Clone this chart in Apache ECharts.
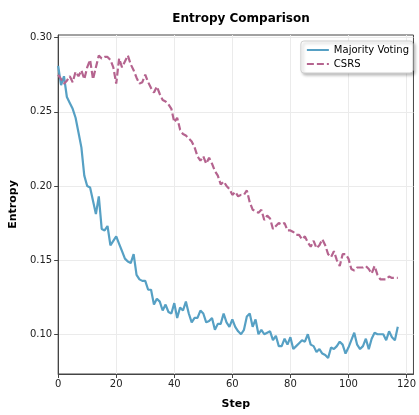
<!DOCTYPE html>
<html>
<head>
<meta charset="UTF-8">
<title>Entropy Comparison</title>
<script src="https://cdn.jsdelivr.net/npm/echarts@6/dist/echarts.min.js"></script>
<style>
  html, body { margin: 0; padding: 0; background: #fff; }
  #main { width: 419px; height: 415px; }
</style>
</head>
<body>
<div id="main"></div>
<script type="text/javascript">
// data, one value per step (0..117)
var majorityVoting = [
    0.281, 0.268, 0.274, 0.260, 0.256, 0.252, 0.246, 0.236, 0.226, 0.207,
    0.200, 0.199, 0.190, 0.181, 0.193, 0.171, 0.170, 0.173, 0.160, 0.163,
    0.166, 0.161, 0.156, 0.151, 0.149, 0.148, 0.154, 0.140, 0.137, 0.136,
    0.136, 0.130, 0.130, 0.120, 0.124, 0.122, 0.116, 0.120, 0.115, 0.114,
    0.121, 0.111, 0.118, 0.116, 0.122, 0.114, 0.108, 0.111, 0.111, 0.116,
    0.114, 0.108, 0.109, 0.111, 0.103, 0.107, 0.107, 0.114, 0.108, 0.105,
    0.110, 0.105, 0.102, 0.100, 0.103, 0.112, 0.114, 0.105, 0.110, 0.100,
    0.103, 0.100, 0.101, 0.102, 0.096, 0.099, 0.092, 0.092, 0.097, 0.093,
    0.098, 0.090, 0.092, 0.094, 0.096, 0.095, 0.100, 0.093, 0.092, 0.088,
    0.090, 0.087, 0.086, 0.084, 0.091, 0.090, 0.092, 0.095, 0.093, 0.087,
    0.091, 0.096, 0.101, 0.093, 0.090, 0.092, 0.097, 0.090, 0.097, 0.101,
    0.100, 0.100, 0.100, 0.096, 0.102, 0.098, 0.096, 0.105
];
var csrs = [
    0.275, 0.272, 0.269, 0.271, 0.274, 0.270, 0.277, 0.274, 0.278, 0.272,
    0.280, 0.285, 0.272, 0.280, 0.288, 0.286, 0.287, 0.287, 0.285, 0.280,
    0.269, 0.286, 0.280, 0.284, 0.288, 0.282, 0.278, 0.273, 0.269, 0.270,
    0.275, 0.270, 0.266, 0.263, 0.267, 0.262, 0.258, 0.257, 0.255, 0.252,
    0.243, 0.246, 0.238, 0.235, 0.234, 0.232, 0.230, 0.226, 0.220, 0.217,
    0.220, 0.215, 0.219, 0.215, 0.210, 0.207, 0.201, 0.203, 0.200, 0.198,
    0.194, 0.196, 0.193, 0.194, 0.194, 0.197, 0.189, 0.184, 0.183, 0.182,
    0.184, 0.177, 0.180, 0.178, 0.171, 0.173, 0.175, 0.174, 0.175, 0.170,
    0.170, 0.169, 0.167, 0.167, 0.164, 0.166, 0.162, 0.159, 0.163, 0.158,
    0.160, 0.164, 0.160, 0.154, 0.152, 0.156, 0.150, 0.146, 0.154, 0.154,
    0.151, 0.144, 0.143, 0.145, 0.145, 0.145, 0.146, 0.144, 0.141, 0.146,
    0.140, 0.137, 0.137, 0.137, 0.139, 0.138, 0.138, 0.138
];
var xTicks = [0, 20, 40, 60, 80, 100, 120];
var yTicks = [0.10, 0.15, 0.20, 0.25, 0.30];

function withSteps(arr) {
    return arr.map(function (v, i) { return [i, v]; });
}

var myChart = echarts.init(document.getElementById('main'));
var font = 'DejaVu Sans';

var option = {
    backgroundColor: '#FFFFFF',
    animation: false,
    title: {
        text: 'Entropy Comparison',
        left: 236,
        top: 8,
        textAlign: 'center',
        textStyle: { fontFamily: font, fontSize: 12, fontWeight: 'bold', color: '#000' }
    },
    legend: {
        orient: 'vertical',
        right: 6,
        top: 41,
        itemWidth: 22,
        itemHeight: 10,
        itemGap: 4,
        padding: [4, 4, 4, 5],
        backgroundColor: '#fff',
        borderColor: '#cfcfcf',
        borderWidth: 1,
        borderRadius: 3,
        shadowColor: 'rgba(0,0,0,0.25)',
        shadowBlur: 3,
        shadowOffsetX: 2,
        shadowOffsetY: 2,
        // hide the circle ECharts puts on line icons
        itemStyle: { color: 'transparent', borderWidth: 0, opacity: 0 },
        textStyle: { fontFamily: font, fontSize: 10, color: '#000' },
        data: ['Majority Voting', 'CSRS']
    },
    grid: {
        left: 56,
        right: 2,
        top: 35,
        bottom: 30,
        show: true,
        borderColor: '#444',
        borderWidth: 1
    },
    xAxis: {
        type: 'value',
        min: 0,
        max: 122.4,
        name: 'Step',
        nameLocation: 'middle',
        nameGap: 25,
        nameTextStyle: { fontFamily: font, fontSize: 11, fontWeight: 'bold', color: '#000' },
        axisLine: { lineStyle: { color: '#444', width: 1 } },
        axisTick: { customValues: xTicks, length: 4, lineStyle: { color: '#444' } },
        axisLabel: { customValues: xTicks, fontFamily: font, fontSize: 10, color: '#222', margin: 5 },
        splitLine: { show: true, lineStyle: { color: '#ebebeb', width: 1 } }
    },
    yAxis: {
        type: 'value',
        min: 0.0732,
        max: 0.3018,
        name: 'Entropy',
        nameLocation: 'middle',
        nameGap: 29,
        nameTextStyle: { fontFamily: font, fontSize: 11, fontWeight: 'bold', color: '#000' },
        axisLine: { show: true, lineStyle: { color: '#444', width: 1 } },
        axisTick: { show: true, customValues: yTicks, length: 4, lineStyle: { color: '#444' } },
        axisLabel: {
            customValues: yTicks, fontFamily: font, fontSize: 10, color: '#222', margin: 6,
            formatter: function (v) { return v.toFixed(2); }
        },
        splitLine: { show: true, lineStyle: { color: '#ebebeb', width: 1 } }
    },
    series: [
        {
            name: 'Majority Voting',
            type: 'line',
            symbol: 'none',
            data: withSteps(majorityVoting),
            itemStyle: { color: '#56a0c4' },
            lineStyle: { color: '#56a0c4', width: 2.2 }
        },
        {
            name: 'CSRS',
            type: 'line',
            symbol: 'none',
            data: withSteps(csrs),
            itemStyle: { color: '#b5648f' },
            lineStyle: { color: '#b5648f', width: 2.2, type: [7, 3] }
        }
    ]
};

myChart.setOption(option);
</script>
</body>
</html>
